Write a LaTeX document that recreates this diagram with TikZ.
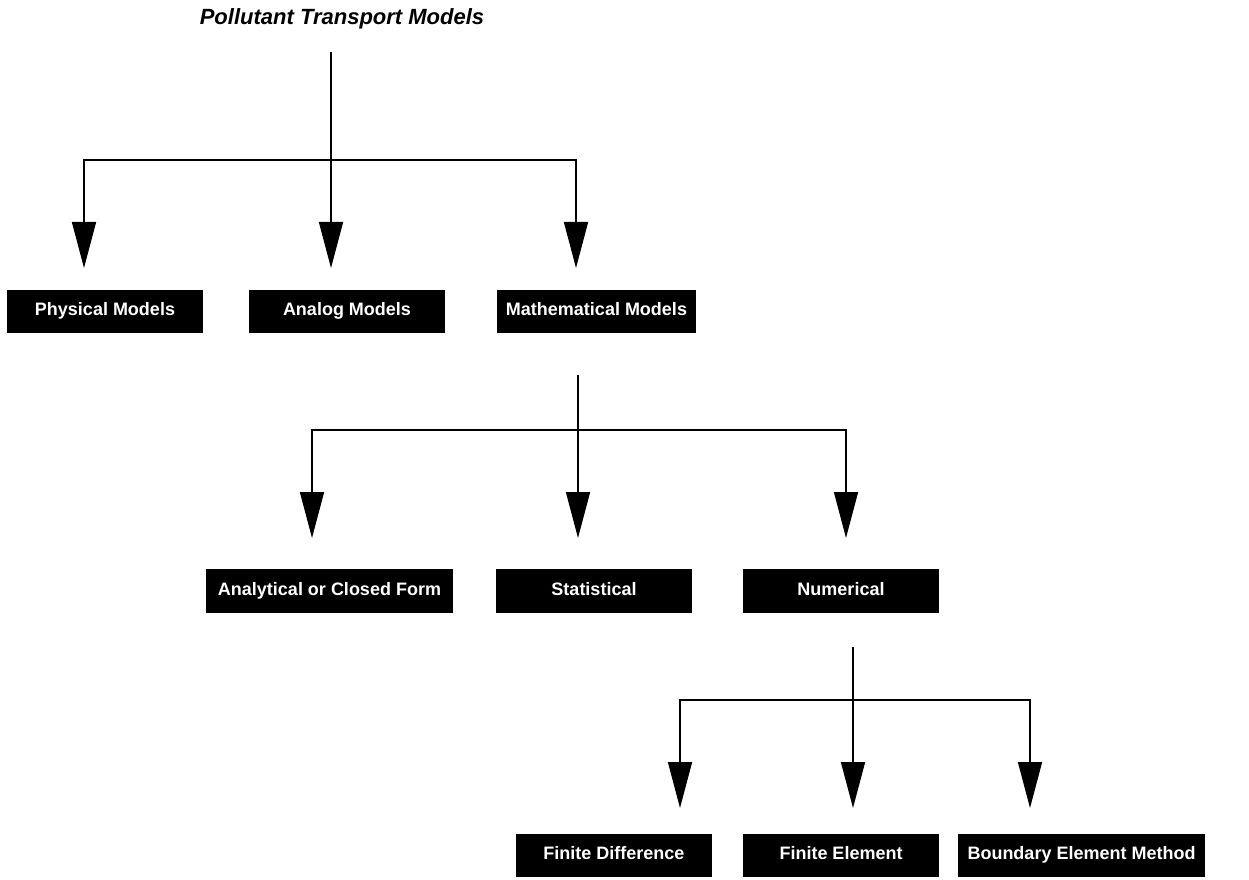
\documentclass[tikz,border=0pt]{standalone}
\usepackage{fontspec}
\setmainfont{Liberation Sans}
\usetikzlibrary{arrows.meta,positioning}

\begin{document}
\begin{tikzpicture}[x=1pt,y=1pt,
box/.style={fill=black,text=white,font=\fontsize{18}{21}\selectfont\bfseries,minimum width=196,minimum height=43,inner sep=0pt,text height=13pt,text depth=4pt},
wire/.style={line width=1.6pt},
flow/.style={wire,-{Triangle[length=46pt,width=24pt]}}]
\useasboundingbox (0,0) rectangle (1249,879);
\node[font=\fontsize{22}{26}\selectfont\bfseries\itshape] (title) at (342,860) {Pollutant Transport Models};
% first level
\node[box] (phys) at (105,567.5) {Physical Models};
\node[box] (analog) at (347,567.5) {Analog Models};
\node[box,minimum width=199] (math) at (596.5,567.5) {Mathematical Models};
\coordinate (t0) at (331,827); \coordinate (t1) at (331,719);
\coordinate (tp) at (84,611); \coordinate (ta) at (331,611); \coordinate (tm) at (576,611);
\draw[flow] (t0) -- (ta);
\draw[flow] (t1) -| (tp);
\draw[flow] (t1) -| (tm);
% second level
\node[box,minimum width=247,minimum height=44] (closed) at (329.5,288) {Analytical or Closed Form};
\node[box,minimum height=44] (stat) at (594,288) {Statistical};
\node[box,minimum height=44] (num) at (841,288) {Numerical};
\coordinate (m0) at (578,504); \coordinate (m1) at (578,449);
\coordinate (tc) at (312,341); \coordinate (ts) at (578,341); \coordinate (tn) at (846,341);
\draw[flow] (m0) -- (ts);
\draw[flow] (m1) -| (tc);
\draw[flow] (m1) -| (tn);
% third level
\node[box] (fd) at (614,24) {Finite Difference};
\node[box] (fe) at (841,24) {Finite Element};
\node[box,minimum width=247] (bem) at (1081.5,24) {Boundary Element Method};
\coordinate (n0) at (853,232); \coordinate (n1) at (853,179);
\coordinate (td) at (680,71); \coordinate (te) at (853,71); \coordinate (tb) at (1030,71);
\draw[flow] (n0) -- (te);
\draw[flow] (n1) -| (td);
\draw[flow] (n1) -| (tb);
\end{tikzpicture}
\end{document}
